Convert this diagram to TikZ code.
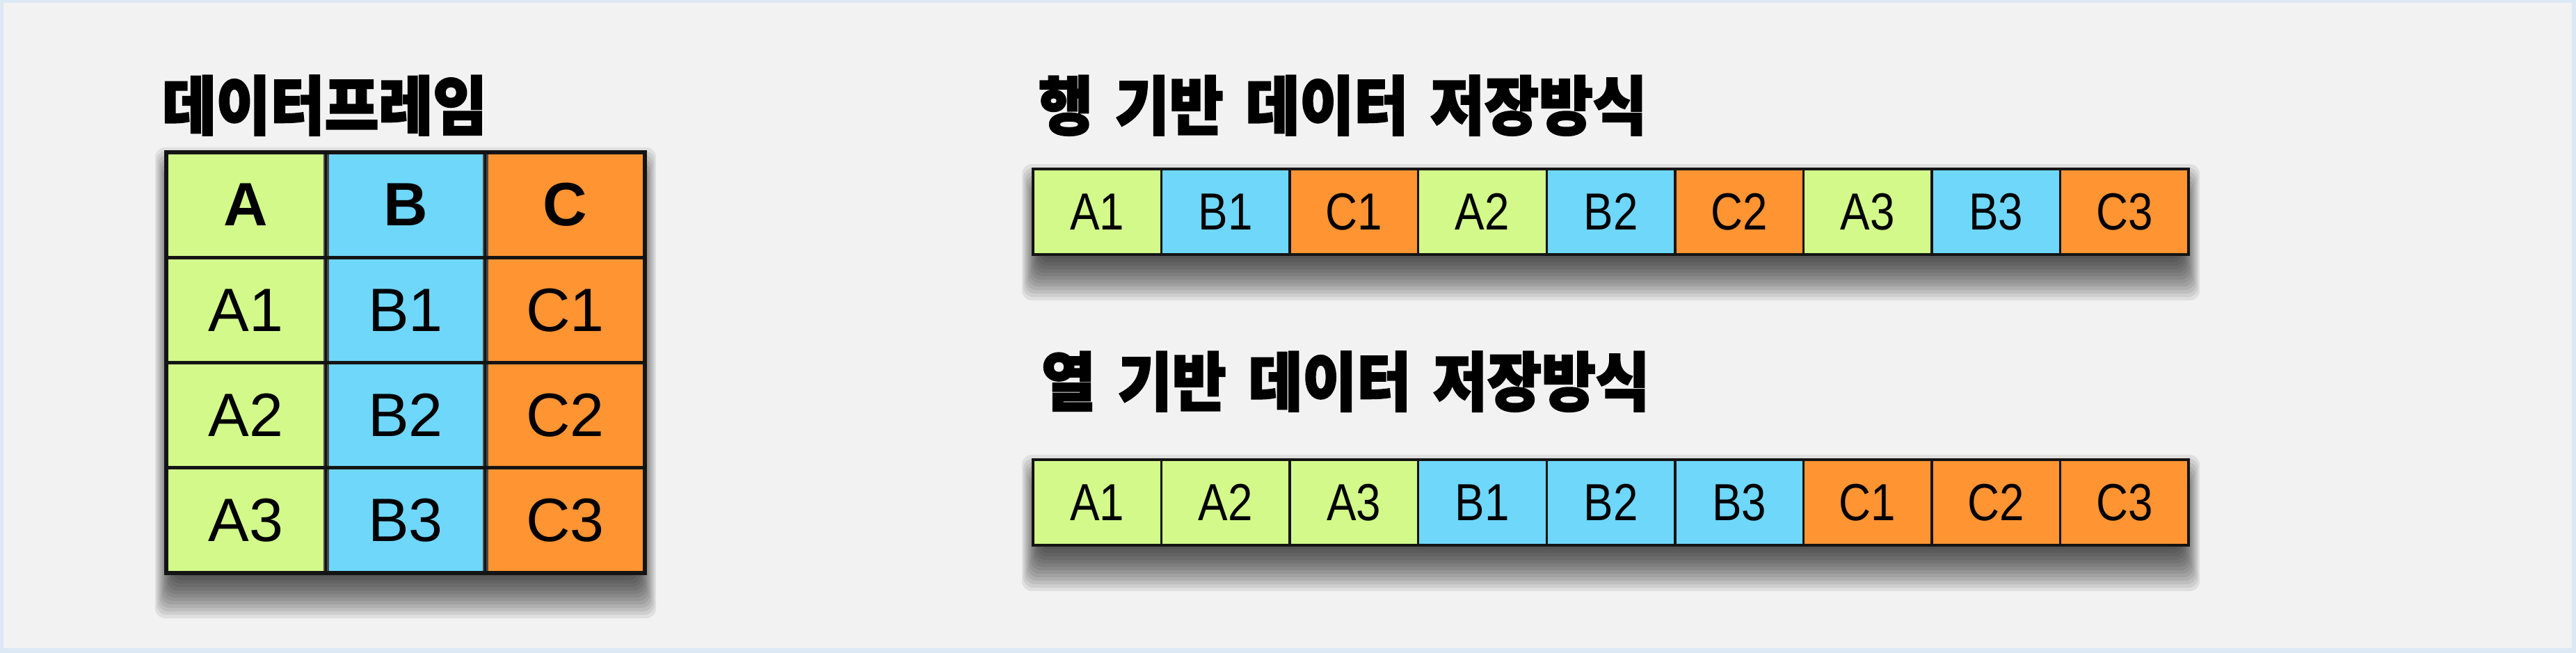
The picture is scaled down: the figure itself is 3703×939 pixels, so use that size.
\documentclass[tikz,border=0pt]{standalone}
\usepackage{fontspec}
\setmainfont{Liberation Sans}
\newfontfamily\krtitle{Noto Sans CJK KR}[FakeStretch=0.92, BoldFeatures={FakeBold=2.5}]
\newfontfamily\tcellfont{Liberation Sans}
\newfontfamily\scellfont{Liberation Sans}[FakeStretch=0.85]
\definecolor{bgcol}{HTML}{F2F2F2}
\definecolor{framecol}{HTML}{DDE8F5}
\definecolor{ga}{HTML}{D2F98A}
\definecolor{gb}{HTML}{6ED7FA}
\definecolor{gc}{HTML}{FF9432}
\definecolor{linecol}{HTML}{141414}
\newcommand\softshadow[4]{%
  \foreach \k in {0,...,13}{%
    \fill[black,opacity=0.075,rounded corners=14pt]
      ({#1-16+\k*2.2},{#2-7+\k*5}) rectangle ({#3+16-\k*2.2},{#4+66-\k*5});
  }%
}
\tikzset{
  titletext/.style={inner sep=0pt, outer sep=0pt, anchor=south west,
    font={\krtitle\bfseries\fontsize{92}{96}\selectfont\spaceskip=32pt}},
  tcell/.style={inner sep=0pt, outer sep=0pt, minimum width=229.67pt, minimum height=151pt,
    font={\tcellfont\fontsize{88}{90}\selectfont}},
  tcellhead/.style={tcell, font={\tcellfont\bfseries\fontsize{88}{90}\selectfont}},
  scell/.style={inner sep=0pt, outer sep=0pt, minimum width=184.56pt, minimum height=123pt,
    font={\scellfont\fontsize{75}{78}\selectfont}},
}
\begin{document}
\begin{tikzpicture}[x=1pt,y=-1pt]
\useasboundingbox (0,0) rectangle (3703,939);
\fill[framecol] (0,0) rectangle (3703,939);
\fill[bgcol] (5,4) rectangle (3697,932);

% titles
\node[titletext] (t1) at (233,195) {데이터프레임};
\node[titletext] (t2) at (1493,195) {행 기반 데이터 저장방식};
\node[titletext] (t3) at (1497,592) {열 기반 데이터 저장방식};

% dataframe table
\softshadow{239}{219}{927}{823}
\foreach \h/\f [count=\i] in {A/ga,B/gb,C/gc}{
  \node[tcellhead, fill=\f] (h\i) at ({239+(\i-0.5)*229.33},294.5) {\h};
  \foreach \r in {1,2,3}{
    \node[tcell, fill=\f] (c\i\r) at ({239+(\i-0.5)*229.33},{294.5+\r*151.33}) {\h\r};
  }
}
\foreach \i in {1,2}{
  \draw[line width=8pt, color=black!72] (h\i.north east) -- (c\i3.south east);
  \draw[line width=3pt, color=linecol] (h\i.north east) -- (c\i3.south east);
}
\draw[line width=5pt, color=linecol] (h1.south west) -- (h3.south east);
\foreach \r in {1,2}{
  \draw[line width=5pt, color=linecol] (c1\r.south west) -- (c3\r.south east);
}
\draw[line width=6pt, color=linecol] (h1.north west) rectangle (c33.south east);

% row-based strip
\softshadow{1485}{243}{3146}{366}
\foreach \t/\f [count=\i] in {A1/ga,B1/gb,C1/gc,A2/ga,B2/gb,C2/gc,A3/ga,B3/gb,C3/gc}{
  \node[scell, fill=\f] (r\i) at ({1485+(\i-0.5)*184.56},304.5) {\t};
}
\foreach \i in {1,...,8}{
  \draw[line width=3.5pt, color=linecol] (r\i.north east) -- (r\i.south east);
}
\draw[line width=4.5pt, color=linecol] (r1.north west) rectangle (r9.south east);

% column-based strip
\softshadow{1485}{661}{3146}{784}
\foreach \t/\f [count=\i] in {A1/ga,A2/ga,A3/ga,B1/gb,B2/gb,B3/gb,C1/gc,C2/gc,C3/gc}{
  \node[scell, fill=\f] (k\i) at ({1485+(\i-0.5)*184.56},722.5) {\t};
}
\foreach \i in {1,...,8}{
  \draw[line width=3.5pt, color=linecol] (k\i.north east) -- (k\i.south east);
}
\draw[line width=4.5pt, color=linecol] (k1.north west) rectangle (k9.south east);
\end{tikzpicture}
\end{document}
